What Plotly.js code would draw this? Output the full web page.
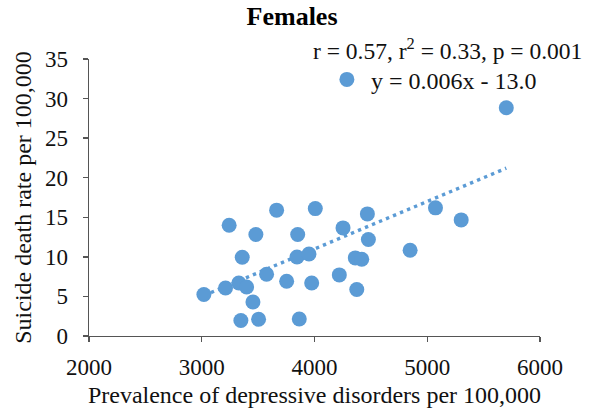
<!DOCTYPE html>
<html>
<head>
<meta charset="utf-8">
<script src="https://cdn.plot.ly/plotly-3.0.1.min.js"></script>
<style>html,body{margin:0;padding:0;background:#fff;}#chart{width:593px;height:418px;}</style>
</head>
<body>
<div id="chart"></div>
<script>
// Prevalence of depressive disorders per 100,000 (x) and suicide death rate per 100,000 (y), females
const prevalence = [3019, 3211, 3329, 3398, 3243, 3480, 3359, 3575, 3664, 3454,
                    3347, 3504, 3753, 3851, 3845, 3951, 3975, 3865, 4007, 4253,
                    4220, 4469, 4478, 4362, 4419, 4375, 4848, 5073, 5301, 5701];
const suicideRate = [5.24, 6.07, 6.70, 6.20, 14.0, 12.83, 9.95, 7.80, 15.9, 4.30,
                     1.95, 2.11, 6.92, 12.83, 9.99, 10.37, 6.70, 2.15, 16.1, 13.66,
                     7.72, 15.43, 12.19, 9.87, 9.70, 5.87, 10.84, 16.19, 14.67, 28.84];
const xTicks = [2000, 3000, 4000, 5000, 6000];
const yTicks = [0, 5, 10, 15, 20, 25, 30, 35];
const titleText = "Females";
const statsText = "r = 0.57, r<sup>2</sup> = 0.33, p = 0.001";
const seriesName = "y = 0.006x - 13.0";
// Trendline coefficients as printed on the chart
const trendSlope = 0.006;
const trendIntercept = -13.0;

const xmin = Math.min(...prevalence), xmax = Math.max(...prevalence);
const trendX = [xmin, xmax];
const trendY = trendX.map(x => trendIntercept + trendSlope * x);

const blue = "#5B9BD5";
const font = "Liberation Serif, Times New Roman, serif";
const txt = "#111";

const traces = [
  {x: trendX, y: trendY, mode: "lines", type: "scatter", showlegend: false, hoverinfo: "skip",
   line: {color: blue, width: 3.4, dash: "3.4px,4.2px"}},
  {x: prevalence, y: suicideRate, mode: "markers", type: "scatter", name: seriesName,
   marker: {color: blue, size: 15, line: {width: 0}}}
];

const axisCommon = {
  showgrid: false, zeroline: false, showline: true, linecolor: "#555", linewidth: 1.3,
  ticks: "outside", ticklen: 5, tickcolor: "#555", tickwidth: 1.3,
  tickfont: {family: font, size: 23, color: txt}
};

const layout = {
  width: 593, height: 418,
  margin: {l: 89, r: 53, t: 59, b: 82},
  paper_bgcolor: "#fff", plot_bgcolor: "#fff",
  font: {family: font, color: txt},
  title: {text: "<b>" + titleText + "</b>", font: {family: font, size: 26, color: "#000"},
          x: 0.4925, xanchor: "center", y: 0.962, yanchor: "middle"},
  xaxis: Object.assign({}, axisCommon, {
    range: [2000, 6000], tickvals: xTicks, ticktext: xTicks.map(String), ticklabelstandoff: 5,
    title: {text: "Prevalence of depressive disorders per 100,000", font: {family: font, size: 24, color: txt}, standoff: 7}
  }),
  yaxis: Object.assign({}, axisCommon, {
    range: [0, 35], tickvals: yTicks, ticktext: yTicks.map(String), ticklabelstandoff: 10,
    title: {text: "Suicide death rate per 100,000", font: {family: font, size: 24, color: txt}, standoff: 6}
  }),
  showlegend: true,
  legend: {x: 0.5186, y: 0.925, xanchor: "left", yanchor: "middle", bgcolor: "rgba(0,0,0,0)",
           itemwidth: 38, font: {family: font, size: 24, color: txt}},
  annotations: [{
    text: statsText, xref: "paper", yref: "paper", x: 0.493, y: 1.035,
    xanchor: "left", yanchor: "middle", showarrow: false,
    font: {family: font, size: 23.5, color: txt}
  }]
};

Plotly.newPlot("chart", traces, layout, {displayModeBar: false, staticPlot: true});
</script>
</body>
</html>
